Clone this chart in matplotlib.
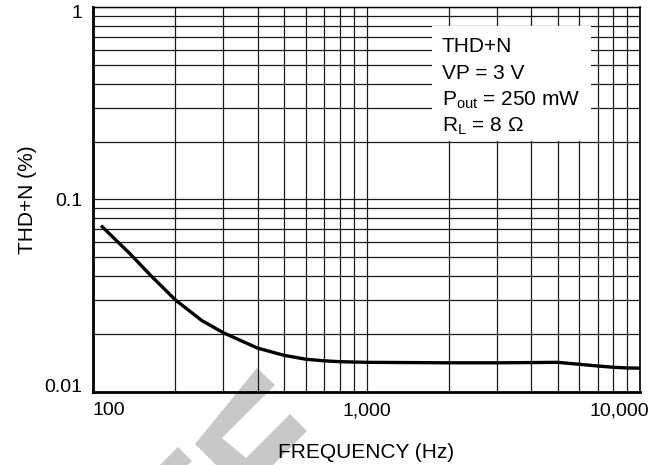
import numpy as np
import matplotlib
matplotlib.use("Agg")
import matplotlib.pyplot as plt
import matplotlib.transforms as mtransforms
from matplotlib.ticker import FixedLocator, NullFormatter
from matplotlib.patches import Polygon, Rectangle

# THD+N vs frequency, VP = 3 V, Pout = 250 mW, RL = 8 ohm
freq_hz = [107, 137, 162, 200, 250, 300, 400, 500, 600, 700, 800, 1000,
           2000, 3000, 4000, 5000, 6000, 7000, 8000, 9000, 10000]
thd_pct = [0.0732, 0.0520, 0.0405, 0.0301, 0.0235, 0.0203, 0.0169, 0.0155,
           0.0148, 0.01452, 0.01437, 0.01426, 0.01418, 0.01418, 0.01422,
           0.01426, 0.01393, 0.01365, 0.01344, 0.01333, 0.01330]

x_ticks = [100, 1000, 10000]
x_ticklabels = ["100", "1,000", "10,000"]
y_ticks = [0.01, 0.1, 1]
y_ticklabels = ["0.01", "0.1", "1"]

cond_lines = ["THD+N", "VP = 3 V", r"P$_{\mathrm{out}}$ = 250 mW", "R$_{\mathrm{L}}$ = 8 \u03a9"]

plt.rcParams["font.family"] = ["Liberation Sans", "DejaVu Sans"]
plt.rcParams["mathtext.fontset"] = "custom"
plt.rcParams["mathtext.rm"] = "Liberation Sans"
plt.rcParams["mathtext.it"] = "Liberation Sans:italic"
plt.rcParams["mathtext.bf"] = "Liberation Sans:bold"

W, H = 664, 465
fig = plt.figure(figsize=(W / 100, H / 100), dpi=100)
ax = fig.add_axes([93 / W, 1 - 392 / H, 547 / W, 385 / H])
ax.set_facecolor("none")

# grey watermark strokes behind the plot (pixel outline, y from top)
wm_a = [(257, 368), (275, 385), (222, 438), (246, 458), (290, 414), (307, 431),
        (273, 465), (216, 465), (195, 444)]
wm_b = [(178, 447), (192, 461), (188, 465), (160, 465)]
for shape in (wm_a, wm_b):
    pts = [(px / W, 1 - py / H) for px, py in shape]
    fig.patches.append(Polygon(pts, closed=True, transform=fig.transFigure,
                               facecolor="#c8c8c8", edgecolor="none", zorder=-1))

ax.plot(freq_hz, thd_pct, color="black", lw=2.4, solid_capstyle="butt",
        solid_joinstyle="round", zorder=4)

ax.set_xscale("log")
ax.set_yscale("log")
ax.set_xlim(100, 10000)
ax.set_ylim(0.01, 1)

ax.xaxis.set_major_locator(FixedLocator(x_ticks))
ax.xaxis.set_minor_locator(FixedLocator([m * d for d in (100, 1000) for m in range(2, 10)]))
ax.yaxis.set_major_locator(FixedLocator(y_ticks))
ax.yaxis.set_minor_locator(FixedLocator([m * d for d in (0.01, 0.1) for m in range(2, 10)]))
ax.xaxis.set_minor_formatter(NullFormatter())
ax.yaxis.set_minor_formatter(NullFormatter())
ax.set_xticklabels(x_ticklabels, fontsize=14)
ax.set_yticklabels(y_ticklabels, fontsize=14)
ax.tick_params(which="both", length=0)
ax.tick_params(axis="x", pad=7.5)
ax.tick_params(axis="y", pad=8)

ax.grid(True, which="both", color="#1a1a1a", lw=0.9)

for side, lw in (("left", 2.0), ("bottom", 2.0), ("top", 1.0), ("right", 1.2)):
    ax.spines[side].set_linewidth(lw)
    ax.spines[side].set_color("black")

# nudge the end labels inside, like the printed graph
xl = ax.get_xticklabels()
xl[0].set_ha("left")
xl[-1].set_ha("right")
xl[-1].set_transform(xl[-1].get_transform() +
                     mtransforms.ScaledTranslation(0.09, 0, fig.dpi_scale_trans))
yl = ax.get_yticklabels()
yl[0].set_transform(yl[0].get_transform() +
                    mtransforms.ScaledTranslation(0, 0.065, fig.dpi_scale_trans))
yl[-1].set_transform(yl[-1].get_transform() +
                     mtransforms.ScaledTranslation(0, -0.05, fig.dpi_scale_trans))

ax.set_xlabel("FREQUENCY (Hz)", fontsize=15, labelpad=17)
ax.set_ylabel("THD+N (%)", fontsize=15, labelpad=5)

# conditions box
ax.add_patch(Rectangle((0.620, 0.652), 0.290, 0.299, transform=ax.transAxes,
                       facecolor="white", edgecolor="none", zorder=2))
for i, line in enumerate(cond_lines):
    ax.text(0.638, 0.882 - i * 0.069, line, transform=ax.transAxes,
            fontsize=15, va="baseline", ha="left", zorder=3)

fig.savefig("out.png", dpi=100)
